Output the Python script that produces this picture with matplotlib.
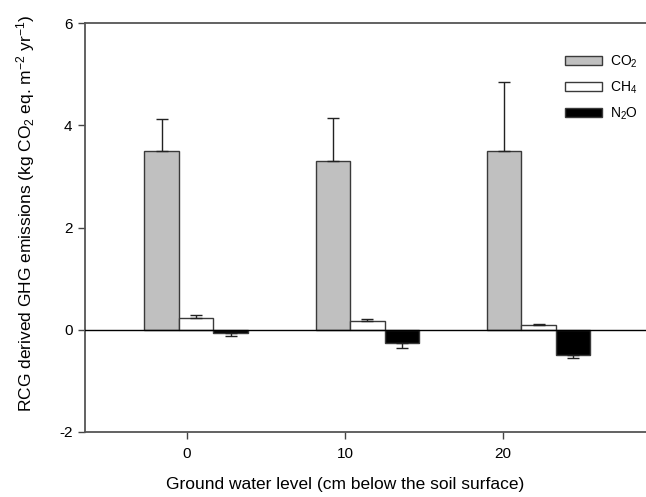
import numpy as np
import matplotlib
matplotlib.use("Agg")
import matplotlib.pyplot as plt

plt.rcParams['font.family'] = ['Liberation Sans', 'DejaVu Sans']
plt.rcParams['mathtext.default'] = 'regular'
plt.rcParams['axes.unicode_minus'] = False

# ground water level (cm below soil surface)
levels = [0, 10, 20]

# emissions (kg CO2 eq. m-2 yr-1) and error bars
co2 = [3.50, 3.30, 3.50]
co2_err = [0.63, 0.85, 1.34]
ch4 = [0.235, 0.18, 0.10]
ch4_err = [0.045, 0.035, 0.02]
n2o = [-0.065, -0.25, -0.49]
n2o_err = [0.055, 0.10, 0.07]

fig = plt.figure(figsize=(6.46, 4.97), dpi=100)
ax = fig.add_axes([0.1316, 0.1308, 0.8684, 0.8229])

# bar groups sit a bit to the right of the ticks (as in the original plot)
centers = np.array(levels) * 1.084 + 0.57
w = 2.18
edge = '#3a3a3a'

ax.bar(centers - w, co2, w, color='#c0c0c0', edgecolor=edge, linewidth=1.0,
       label='CO$_2$', zorder=2)
ax.bar(centers, ch4, w, color='white', edgecolor=edge, linewidth=1.0,
       label='CH$_4$', zorder=2)
ax.bar(centers + w, n2o, w, color='black', edgecolor=edge, linewidth=1.0,
       label='N$_2$O', zorder=2)

# one-sided error bars
ekw = dict(fmt='none', ecolor='#222222', elinewidth=1.0, capsize=4.5, capthick=1.0, zorder=3)
ax.errorbar(centers - w, co2, yerr=[np.zeros(3), co2_err], **ekw)
ax.errorbar(centers, ch4, yerr=[np.zeros(3), ch4_err], **ekw)
ax.errorbar(centers + w, n2o, yerr=[n2o_err, np.zeros(3)], **ekw)

ax.axhline(0, color='black', linewidth=1.0, zorder=4)

ax.set_xlim(-6.46, 29.05)
ax.set_ylim(-2, 6)
ax.set_xticks(levels)
ax.set_yticks([-2, 0, 2, 4, 6])
ax.tick_params(axis='both', direction='out', length=5, width=1.0,
               color='#444444', labelsize=11, pad=6)
ax.tick_params(axis='y', pad=4)

ax.spines['right'].set_visible(False)
for s in ['left', 'bottom', 'top']:
    ax.spines[s].set_color('#555555')
    ax.spines[s].set_linewidth(1.3)

ax.set_xlabel('Ground water level (cm below the soil surface)', fontsize=12.5)
ax.xaxis.set_label_coords(0.463, -0.11)
ax.set_ylabel('RCG derived GHG emissions (kg CO$_2$ eq. m$^{-2}$ yr$^{-1}$)',
              fontsize=12.5)
ax.yaxis.set_label_coords(-0.085, 0.535)

fig.legend(*ax.get_legend_handles_labels(), loc='upper left',
           bbox_to_anchor=(0.8746, 0.893), frameon=False, fontsize=10,
           borderpad=0, borderaxespad=0, handlelength=2.7, handleheight=0.65,
           labelspacing=0.7, handletextpad=0.55)

fig.savefig('out.png', dpi=100)
